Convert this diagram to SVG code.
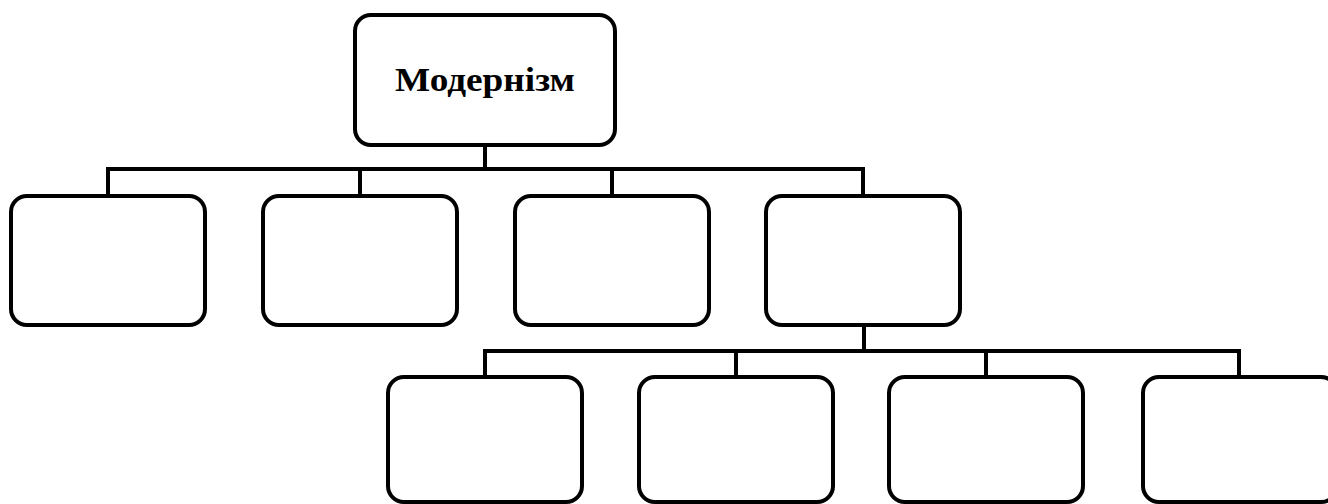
<svg xmlns="http://www.w3.org/2000/svg" width="1328" height="504" viewBox="0 0 1328 504">
<style>
.box{fill:#fff;stroke:#000;stroke-width:4}
.conn{fill:none;stroke:#000;stroke-width:4}
.lbl{font-family:"Liberation Serif","Times New Roman",serif;font-weight:bold;font-size:34px;fill:#000}
</style>
<rect width="1328" height="504" fill="#fff"/>
<g id="connectors">
<path class="conn" d="M485 145V169M108 169H863M108 167V196M360 167V196M612 167V196M863 167V196"/>
<path class="conn" d="M864 325V351M485 351H1239M485 349V377M736 349V377M986 349V377M1239 349V377"/>
</g>
<g id="root"><rect class="box" x="355" y="15" width="260" height="130" rx="16"/><text class="lbl" x="485" y="91" text-anchor="middle" textLength="180" lengthAdjust="spacingAndGlyphs">Модернізм</text></g>
<g id="n1"><rect class="box" x="11" y="196" width="194" height="129" rx="16"/></g>
<g id="n2"><rect class="box" x="263" y="196" width="194" height="129" rx="16"/></g>
<g id="n3"><rect class="box" x="515" y="196" width="194" height="129" rx="16"/></g>
<g id="n4"><rect class="box" x="766" y="196" width="194" height="129" rx="16"/></g>
<g id="n5"><rect class="box" x="388" y="377" width="194" height="125" rx="16"/></g>
<g id="n6"><rect class="box" x="639" y="377" width="194" height="125" rx="16"/></g>
<g id="n7"><rect class="box" x="889" y="377" width="194" height="125" rx="16"/></g>
<g id="n8"><rect class="box" x="1143" y="377" width="194" height="125" rx="16"/></g>
</svg>
